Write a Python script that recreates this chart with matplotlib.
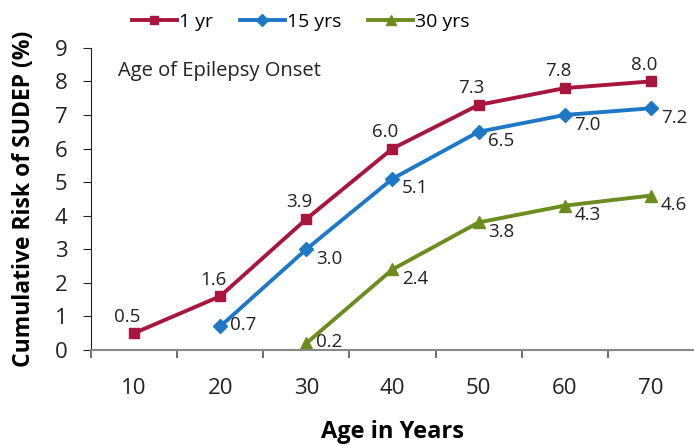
import matplotlib
matplotlib.use('Agg')
import matplotlib.pyplot as plt

ages = [10, 20, 30, 40, 50, 60, 70]
risk_1yr = [0.5, 1.6, 3.9, 6.0, 7.3, 7.8, 8.0]
risk_15yrs = [None, 0.7, 3.0, 5.1, 6.5, 7.0, 7.2]
risk_30yrs = [None, None, 0.2, 2.4, 3.8, 4.3, 4.6]
series_names = ['1 yr', '15 yrs', '30 yrs']

plt.rcParams['font.family'] = ['Open Sans', 'DejaVu Sans']

fig = plt.figure(figsize=(6.94, 4.45), dpi=100)
ax = fig.add_axes([0.131, 0.2135, 0.869, 0.679])

pos = list(range(1, len(ages) + 1))

def pts(vals):
    xs = [p for p, v in zip(pos, vals) if v is not None]
    ys = [v for v in vals if v is not None]
    return xs, ys

# values, colour, marker, size, label offset (points), alignment
styles = [
    (risk_1yr, '#A8163F', 's', 7, (-5, 12), 'center'),
    (risk_15yrs, '#1E78C6', 'D', 7, (7, -7), 'left'),
    (risk_30yrs, '#6C8C1E', '^', 8, (7, -7), 'left'),
]
for (vals, col, mk, ms, off, ha), name in zip(styles, series_names):
    xs, ys = pts(vals)
    ax.plot(xs, ys, color=col, lw=2.8, marker=mk, markersize=ms, label=name,
            solid_joinstyle='round')
    for i, (x, y) in enumerate(zip(xs, ys)):
        o = off
        if ha == 'left' and i == 0:
            # first point of the later series sits level with its label
            o = (off[0], 1)
        ax.annotate(f'{y:.1f}', (x, y), xytext=o, textcoords='offset points',
                    ha=ha, va='center', fontsize=13.5, color='#222222')

ax.set_xlim(0.5, 7.5)
ax.set_ylim(0, 9)
ax.set_yticks(range(0, 10))
ax.set_xticks([p + 0.5 for p in range(0, 7)])
ax.set_xticklabels([])
ax.set_xticks(pos, minor=True)
ax.set_xticklabels([str(a) for a in ages], minor=True)
ax.tick_params(axis='x', which='minor', length=0, labelsize=16, pad=20, colors='#222222')
ax.tick_params(axis='x', which='major', length=6, direction='out', color='#555555', width=1.2)
ax.tick_params(axis='y', length=6, labelsize=16, colors='#222222', pad=11)
for s in ['top', 'right']:
    ax.spines[s].set_visible(False)
ax.spines['bottom'].set_color('#888888')
ax.spines['bottom'].set_linewidth(1.5)
ax.spines['left'].set_color('#222222')

ax.set_xlabel('Age in Years', fontsize=17, fontweight='bold', labelpad=15)
ax.set_ylabel('Cumulative Risk of SUDEP (%)', fontsize=16.5, fontweight='bold', labelpad=13)

ax.text(0.045, 0.955, 'Age of Epilepsy Onset', transform=ax.transAxes,
        fontsize=14.5, va='top', color='#222222')

fig.legend(loc='upper left', bbox_to_anchor=(0.165, 1.01), ncol=3, frameon=False,
           fontsize=14, handlelength=2.3, columnspacing=1.4, handletextpad=0.1,
           markerscale=0.85)

fig.savefig('out.png', dpi=100)
